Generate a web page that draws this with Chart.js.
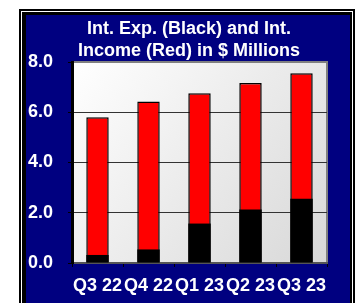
<!DOCTYPE html>
<html>
<head>
<meta charset="utf-8">
<script src="https://cdn.jsdelivr.net/npm/chart.js@4/dist/chart.umd.min.js"></script>
<style>
  html, body { margin: 0; padding: 0; background: #fff; }
  canvas { display: block; }
</style>
</head>
<body>
<canvas id="intChart" width="356" height="303"></canvas>
<script>
// data
var quarters = ['Q3 22', 'Q4 22', 'Q1 23', 'Q2 23', 'Q3 23'];
var intIncome = [5.8, 6.43, 6.76, 7.16, 7.55];   // red
var intExpense = [0.32, 0.54, 1.57, 2.13, 2.56]; // black
var titleLines = ['Int. Exp. (Black) and Int.', 'Income (Red) in $ Millions'];

var boldFont = { family: "'Liberation Sans', Arial, sans-serif", size: 18, weight: 'bold' };

// navy frame + gradient plot background
var framePlugin = {
    id: 'frame',
    beforeDraw: function(chart) {
        var ctx = chart.ctx;
        var a = chart.chartArea;
        ctx.save();
        ctx.fillStyle = '#fff';
        ctx.fillRect(0, 0, chart.width, chart.height);
        ctx.fillStyle = '#000';
        ctx.fillRect(19, 9, 336, 300);
        ctx.strokeStyle = '#fff';
        ctx.lineWidth = 1;
        ctx.strokeRect(21.5, 11.5, 331, 300);
        ctx.fillStyle = '#000080';
        ctx.fillRect(26, 15, 324, 300);

        var grad = ctx.createLinearGradient(a.left, a.top, a.right, a.bottom);
        grad.addColorStop(0, '#ffffff');
        grad.addColorStop(1, '#d8d8d8');
        ctx.fillStyle = grad;
        ctx.fillRect(a.left, a.top, a.right - a.left, a.bottom - a.top);
        ctx.strokeStyle = '#808080';
        ctx.lineWidth = 2;
        ctx.strokeRect(a.left, a.top, a.right - a.left, a.bottom - a.top);
        ctx.restore();
    }
};

var chart = new Chart(document.getElementById('intChart'), {
    type: 'bar',
    data: {
        labels: quarters,
        datasets: [{
            label: 'Int. Exp.',
            data: intExpense,
            backgroundColor: '#000',
            borderWidth: 0
        }, {
            label: 'Int. Income',
            data: intIncome,
            backgroundColor: '#ff0000',
            borderColor: '#000',
            borderWidth: 1.5,
            borderSkipped: false
        }]
    },
    options: {
        responsive: false,
        animation: false,
        categoryPercentage: 1,
        barPercentage: 0.44,
        layout: { padding: { left: 22, right: 0, top: 10, bottom: 0 } },
        plugins: {
            legend: { display: false },
            tooltip: { enabled: false },
            title: {
                display: true,
                text: titleLines,
                color: '#fff',
                font: Object.assign({}, boldFont, { lineHeight: 22 / 18 }),
                padding: { top: 8, bottom: 0 }
            }
        },
        scales: {
            x: {
                stacked: true,
                grid: { display: true, offset: true, drawOnChartArea: false, tickLength: 4, tickColor: '#000' },
                border: { color: '#555', width: 2 },
                ticks: { color: '#fff', font: boldFont, padding: 8, maxRotation: 0, autoSkip: false },
                afterFit: function(s) { s.height = 40; }
            },
            y: {
                min: 0,
                max: 8,
                ticks: {
                    stepSize: 2,
                    color: '#fff',
                    font: boldFont,
                    padding: 15,
                    callback: function(v) { return v.toFixed(1); }
                },
                grid: {
                    color: function(c) { return (c.tick && (c.tick.value === 0 || c.tick.value === 8)) ? 'rgba(0,0,0,0)' : '#333'; },
                    tickColor: '#000',
                    tickLength: 4,
                    lineWidth: 1
                },
                border: { color: '#000', width: 3 },
                afterFit: function(s) { s.width = 50; }
            },
            yRight: {
                position: 'right',
                display: true,
                ticks: { display: false },
                grid: { display: false },
                border: { display: false },
                afterFit: function(s) { s.width = 29; }
            }
        }
    },
    plugins: [framePlugin]
});
</script>
</body>
</html>
